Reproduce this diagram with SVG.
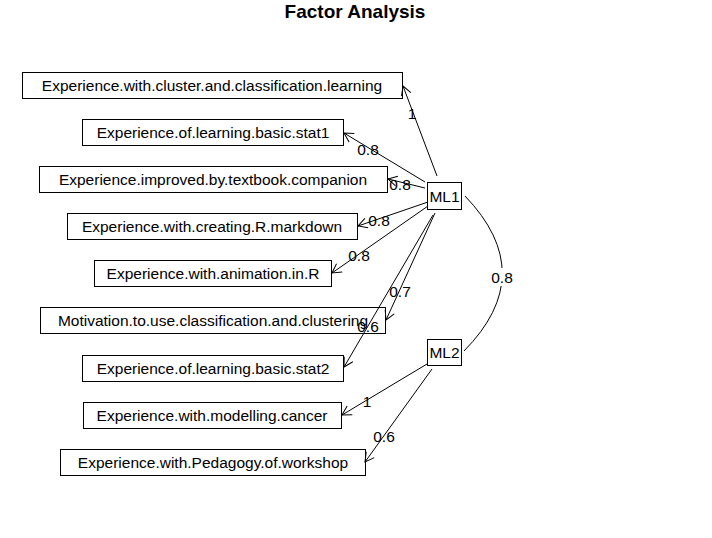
<svg xmlns="http://www.w3.org/2000/svg" width="712" height="538" viewBox="0 0 712 538">
<style>
.box{fill:#fff;stroke:#000;stroke-width:1}
.t{font-family:"Liberation Sans",Arial,sans-serif;font-size:15.5px;text-anchor:middle;fill:#000}
.e{stroke:#000;stroke-width:1;fill:none}
.title{font-family:"Liberation Sans",Arial,sans-serif;font-size:19px;font-weight:bold;text-anchor:middle}
</style>
<defs>
<marker id="a" markerUnits="userSpaceOnUse" markerWidth="12" markerHeight="12" refX="9" refY="5" orient="auto" overflow="visible">
<path d="M0,0 L9,5 L0,10" fill="none" stroke="#000" stroke-width="1"/>
</marker>
</defs>
<rect width="712" height="538" fill="#fff"/>
<text class="title" x="355" y="18">Factor Analysis</text>
<g id="n1"><rect class="box" x="22.5" y="72.5" width="380" height="26"/><text class="t" x="212" y="91">Experience.with.cluster.and.classification.learning</text></g>
<g id="n2"><rect class="box" x="82.5" y="119.5" width="261" height="26"/><text class="t" x="213" y="138">Experience.of.learning.basic.stat1</text></g>
<g id="n3"><rect class="box" x="39.5" y="166.5" width="348" height="26"/><text class="t" x="213" y="185">Experience.improved.by.textbook.companion</text></g>
<g id="n4"><rect class="box" x="67.5" y="213.5" width="290" height="26"/><text class="t" x="212" y="232">Experience.with.creating.R.markdown</text></g>
<g id="n5"><rect class="box" x="94.5" y="260.5" width="237" height="26"/><text class="t" x="213" y="279">Experience.with.animation.in.R</text></g>
<g id="n6"><rect class="box" x="40.5" y="307.5" width="345" height="26"/><text class="t" x="213" y="326">Motivation.to.use.classification.and.clustering</text></g>
<g id="n7"><rect class="box" x="82.5" y="355.5" width="261" height="26"/><text class="t" x="213" y="374">Experience.of.learning.basic.stat2</text></g>
<g id="n8"><rect class="box" x="83.5" y="402.5" width="258" height="26"/><text class="t" x="212" y="421">Experience.with.modelling.cancer</text></g>
<g id="n9"><rect class="box" x="60.5" y="449.5" width="305" height="26"/><text class="t" x="213" y="468">Experience.with.Pedagogy.of.workshop</text></g>
<g id="ML1"><rect class="box" x="427.5" y="182.5" width="34" height="27"/><text class="t" x="444.5" y="202">ML1</text></g>
<g id="ML2"><rect class="box" x="427.5" y="339.5" width="34" height="26"/><text class="t" x="444.5" y="358">ML2</text></g>
<g id="connectors">
<line class="e" x1="437" y1="176" x2="403" y2="86" marker-end="url(#a)"/>
<line class="e" x1="425" y1="182" x2="344" y2="133" marker-end="url(#a)"/>
<line class="e" x1="425" y1="188" x2="388" y2="179" marker-end="url(#a)"/>
<line class="e" x1="428" y1="202" x2="358" y2="226" marker-end="url(#a)"/>
<line class="e" x1="428" y1="206" x2="332" y2="273" marker-end="url(#a)"/>
<line class="e" x1="435" y1="213" x2="386" y2="320" marker-end="url(#a)"/>
<line class="e" x1="433" y1="215" x2="344" y2="367" marker-end="url(#a)"/>
<line class="e" x1="427" y1="364" x2="342" y2="415" marker-end="url(#a)"/>
<line class="e" x1="432" y1="369" x2="365" y2="462" marker-end="url(#a)"/>
<path class="e" d="M465,196 Q540,274 464,351"/>
<rect x="490" y="268" width="23" height="18" fill="#fff"/>
</g>
<g id="edge-labels" class="t">
<text x="412" y="119">1</text>
<text x="368" y="155">0.8</text>
<text x="400" y="190">0.8</text>
<text x="379" y="226">0.8</text>
<text x="359" y="261">0.8</text>
<text x="400" y="297">0.7</text>
<text x="368" y="332">0.6</text>
<text x="367" y="407">1</text>
<text x="384" y="442">0.6</text>
<text x="502" y="283">0.8</text>
</g>
</svg>
